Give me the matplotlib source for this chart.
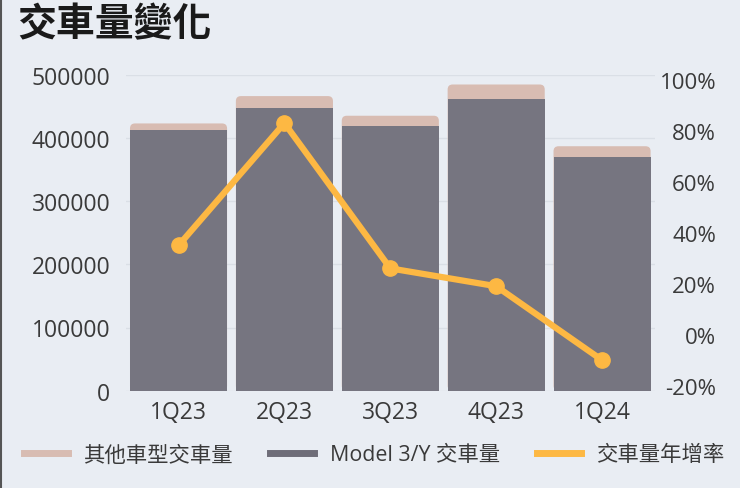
import matplotlib
matplotlib.use("Agg")
import matplotlib.pyplot as plt
from matplotlib.lines import Line2D
from matplotlib.patches import FancyBboxPatch

plt.rcParams['font.family'] = ['Open Sans', 'Noto Sans CJK TC', 'DejaVu Sans']

quarters = ['1Q23', '2Q23', '3Q23', '4Q23', '1Q24']
model_3y = [412180, 446915, 419074, 461538, 369783]
other_models = [10695, 19225, 15985, 22969, 17027]
yoy_growth = [35, 83, 26, 19, -10]

left_ticks = [0, 100000, 200000, 300000, 400000, 500000]
right_ticks = [-20, 0, 20, 40, 60, 80, 100]

BG = '#e9edf3'
C_GRAY = '#767580'
C_PINK = '#d8bcb2'
C_ORANGE = '#fdb843'
TXT = '#3a3a3a'

AX_L, AX_R = 125.6, 655.0
AX_T, AX_B = 75.7, 391.7

fig = plt.figure(figsize=(7.4, 4.89), dpi=100, facecolor=BG)
ax = fig.add_axes([AX_L/740, 1-AX_B/489, (AX_R-AX_L)/740, (AX_B-AX_T)/489])
ax.set_facecolor(BG)
x = list(range(len(quarters)))
w = 0.917
totals = [m + o for m, o in zip(model_3y, other_models)]
ax.set_xlim(-0.5, len(quarters) - 0.5)
ax.set_ylim(0, 500000)

# rounded-top stacked bars: pink full-height rounded bar, gray rectangle over it
tot_bars = ax.bar(x, totals, width=w, color=C_PINK, zorder=2)
px_x = (AX_R - AX_L) / 5.0
px_y = (AX_B - AX_T) / 500000.0
r_x = 5.0 / px_x
aspect = (5.0 / px_y) / r_x
for rect in tot_bars:
    bx, by = rect.get_x(), rect.get_y()
    bw, bh = rect.get_width(), rect.get_height()
    rect.set_visible(False)
    patch = FancyBboxPatch((bx, by), bw, bh,
                           boxstyle=f"round,pad=0,rounding_size={r_x}",
                           mutation_aspect=aspect, facecolor=C_PINK,
                           edgecolor='none', zorder=2)
    ax.add_patch(patch)
ax.bar(x, model_3y, width=w, color=C_GRAY, zorder=3)

ax.set_yticks(left_ticks)
ax.set_yticklabels([str(t) for t in left_ticks])
ax.set_xticks(x)
ax.set_xticklabels(quarters)
ax.tick_params(axis='both', length=0, labelsize=16.5, colors=TXT)
ax.tick_params(axis='y', pad=11)
ax.tick_params(axis='x', pad=7)
ax.grid(axis='y', color='#dadfe6', linewidth=1, zorder=0)
for s in ax.spines.values():
    s.set_visible(False)

ax2 = ax.twinx()
ax2.plot(x, yoy_growth, color=C_ORANGE, linewidth=4.5, marker='o', markersize=11,
         solid_capstyle='round', zorder=5)
ax2.set_ylim(-22, 102)
ax2.set_yticks(right_ticks)
ax2.set_yticklabels([f'{t}%' for t in right_ticks])
ax2.tick_params(axis='y', length=0, labelsize=16, colors=TXT, pad=44)
for lbl in ax2.get_yticklabels():
    lbl.set_horizontalalignment('right')
for s in ax2.spines.values():
    s.set_visible(False)

fig.text(17/740, 1-26/489, '交車量變化', fontsize=28, fontweight='bold',
         color='#1a1a1a', va='center', ha='left')

handles = [
    Line2D([0], [0], color=C_PINK, linewidth=5),
    Line2D([0], [0], color='#6e6d78', linewidth=5),
    Line2D([0], [0], color=C_ORANGE, linewidth=5),
]
labels = ['其他車型交車量', 'Model 3/Y 交車量', '交車量年增率']
leg = fig.legend(handles, labels, loc='center left', bbox_to_anchor=(24/740, 1-456/489),
                 ncol=3, frameon=False, fontsize=15.4, handlelength=2.05,
                 columnspacing=1.75, handletextpad=0.72, labelcolor=TXT,
                 borderpad=0, borderaxespad=0)

fig.add_artist(Line2D([0.5/740, 0.5/740], [0, 1], color='#555555', linewidth=1.5))

fig.savefig('out.png', dpi=100, facecolor=BG)
